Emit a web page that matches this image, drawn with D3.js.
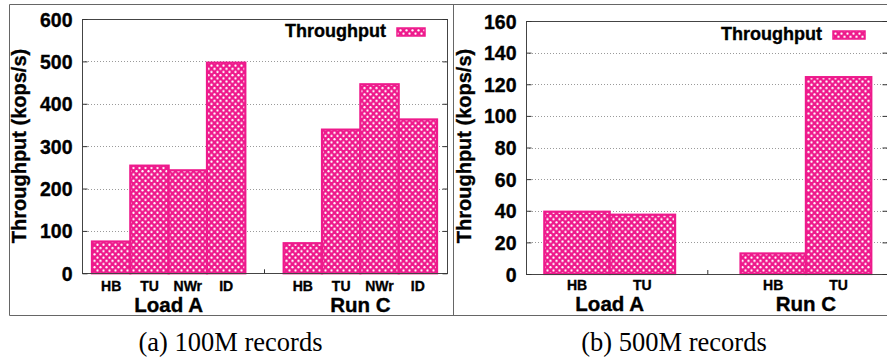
<!DOCTYPE html>
<html>
<head>
<meta charset="utf-8">
<script src="https://cdn.jsdelivr.net/npm/d3@7"></script>
<style>
  html, body { margin: 0; padding: 0; background: #fff; }
  svg { display: block; }
  .sans { font-family: "Liberation Sans", Arial, Helvetica, sans-serif; font-weight: bold; fill: #000; stroke: #000; stroke-width: 0.35px; }
  .serif { font-family: "Liberation Serif", "Times New Roman", serif; fill: #000; }
</style>
</head>
<body>
<svg id="chart" width="887" height="360"></svg>
<script>
// Throughput of each system, grouped by workload
const workloads = ["Load A", "Run C"];
const systems100 = ["HB", "TU", "NWr", "ID"];
const loadA100 = [75, 254, 243, 497];
const runC100 = [71, 339, 446, 363];
const systems500 = ["HB", "TU"];
const loadA500 = [39.4, 37.5];
const runC500 = [13, 124.5];
const yTicks100 = [0, 100, 200, 300, 400, 500, 600];
const yTicks500 = [0, 20, 40, 60, 80, 100, 120, 140, 160];
const seriesName = "Throughput";
const yTitle = "Throughput (kops/s)";
const captions = ["(a) 100M records", "(b) 500M records"];

const PINK = "#ee1a8c";
const svg = d3.select("#chart");

// crosshatch fill with white holes
const defs = svg.append("defs");
const pat = defs.append("pattern")
  .attr("id", "xhatch").attr("patternUnits", "userSpaceOnUse")
  .attr("width", 6).attr("height", 6.4);
pat.append("rect").attr("width", 6).attr("height", 6.4).attr("fill", PINK);
pat.append("circle").attr("cx", 1.5).attr("cy", 1.6).attr("r", 1.15).attr("fill", "#fff");
pat.append("circle").attr("cx", 4.5).attr("cy", 4.8).attr("r", 1.15).attr("fill", "#fff");

// outer frames of the two sub-figures
const frame = svg.append("g").attr("stroke", "#666").attr("stroke-width", 1).attr("fill", "none");
frame.append("line").attr("x1", 9.5).attr("x2", 887).attr("y1", 4.5).attr("y2", 4.5);
frame.append("line").attr("x1", 9.5).attr("x2", 887).attr("y1", 315.5).attr("y2", 315.5);
frame.append("line").attr("x1", 9.5).attr("x2", 9.5).attr("y1", 4.5).attr("y2", 315.5);
frame.append("line").attr("x1", 453.5).attr("x2", 453.5).attr("y1", 4.5).attr("y2", 315.5);

function drawPanel(cfg) {
  const g = svg.append("g");
  const x = d3.scaleLinear().domain(cfg.xDomain).range([cfg.left, cfg.right]);
  const y = d3.scaleLinear().domain([0, cfg.yMax]).range([cfg.bottom, cfg.top]);
  const n = cfg.systems.length;

  // grid
  g.append("g").selectAll("line").data(cfg.yTicks.slice(1, -1)).join("line")
    .attr("x1", cfg.left).attr("x2", cfg.right)
    .attr("y1", d => Math.round(y(d)) + 0.5).attr("y2", d => Math.round(y(d)) + 0.5)
    .attr("stroke", "#9a9a9a").attr("stroke-width", 1).attr("stroke-dasharray", "1,2");

  // bars
  const bars = [];
  cfg.values.forEach((vals, gi) => {
    vals.forEach((v, i) => bars.push({ pos: gi * (n + 1) + i, v, label: cfg.systems[i] }));
  });
  g.append("g").selectAll("rect").data(bars).join("rect")
    .attr("x", d => x(d.pos - 0.5))
    .attr("width", d => x(d.pos + 0.5) - x(d.pos - 0.5))
    .attr("y", d => y(d.v))
    .attr("height", d => y(0) - y(d.v))
    .attr("fill", "url(#xhatch)")
    .attr("stroke", PINK).attr("stroke-width", 2.2);

  // plot border
  g.append("rect")
    .attr("x", cfg.left + 0.5).attr("y", Math.round(cfg.top) + 0.5)
    .attr("width", cfg.right - cfg.left).attr("height", Math.round(cfg.bottom) - Math.round(cfg.top))
    .attr("fill", "none").attr("stroke", "#444").attr("stroke-width", 1);

  // y axis (left) and mirrored ticks (right)
  const yAxis = d3.axisLeft(y).tickValues(cfg.yTicks).tickSizeInner(-5).tickSizeOuter(0).tickPadding(10);
  const ya = g.append("g").attr("transform", `translate(${cfg.left + 0.5},0)`).call(yAxis);
  ya.select(".domain").remove();
  ya.selectAll(".tick line").attr("stroke", "#333");
  ya.selectAll(".tick text").attr("class", "sans").attr("font-size", 19.5)
    .attr("dy", "0.36em");
  const yr = d3.axisRight(y).tickValues(cfg.yTicks).tickSizeInner(-5).tickSizeOuter(0).tickFormat("");
  const yra = g.append("g").attr("transform", `translate(${cfg.right + 0.5},0)`).call(yr);
  yra.select(".domain").remove();
  yra.selectAll(".tick line").attr("stroke", "#333");

  // middle tick between groups
  const xm = x(n);
  g.append("line").attr("x1", xm).attr("x2", xm).attr("y1", cfg.bottom).attr("y2", cfg.bottom - 4)
    .attr("stroke", "#333");

  // system labels
  g.append("g").selectAll("text").data(bars).join("text")
    .attr("class", "sans").attr("font-size", 14).attr("text-anchor", "middle")
    .attr("x", d => x(d.pos)).attr("y", cfg.sysBase).text(d => d.label);

  // workload labels
  g.append("g").selectAll("text").data(workloads).join("text")
    .attr("class", "sans").attr("font-size", 20.5).attr("text-anchor", "middle")
    .attr("x", (d, gi) => x(gi * (n + 1) + (n - 1) / 2)).attr("y", cfg.grpBase).text(d => d);

  // y title
  g.append("text").attr("class", "sans").attr("font-size", 20).attr("text-anchor", "middle")
    .attr("transform", `translate(${cfg.titleX},146) rotate(-90)`).text(yTitle);

  // legend
  g.append("text").attr("class", "sans").attr("font-size", 18).attr("text-anchor", "end")
    .attr("x", cfg.legX).attr("y", cfg.legY).text(seriesName);
  g.append("rect").attr("x", cfg.legX + 11).attr("y", cfg.legY - 9)
    .attr("width", cfg.swW).attr("height", 8)
    .attr("fill", "url(#xhatch)").attr("stroke", PINK).attr("stroke-width", 1.5);

  // caption
  svg.append("text").attr("class", "serif").attr("font-size", 26.5).attr("text-anchor", "middle")
    .attr("x", cfg.capX).attr("y", 351).text(cfg.caption);
}

drawPanel({
  systems: systems100, values: [loadA100, runC100], yMax: 600, yTicks: yTicks100,
  xDomain: [-0.76, 8.76], left: 82, right: 447, top: 19, bottom: 273.3,
  sysBase: 290.5, grpBase: 312, titleX: 26, legX: 386, legY: 37, swW: 28,
  capX: 230.5, caption: captions[0]
});
drawPanel({
  systems: systems500, values: [loadA500, runC500], yMax: 160, yTicks: yTicks500,
  xDomain: [-0.78, 4.74], left: 526, right: 887, top: 21, bottom: 274,
  sysBase: 290, grpBase: 311, titleX: 471, legX: 822, legY: 40, swW: 32,
  capX: 674, caption: captions[1]
});
</script>
</body>
</html>
